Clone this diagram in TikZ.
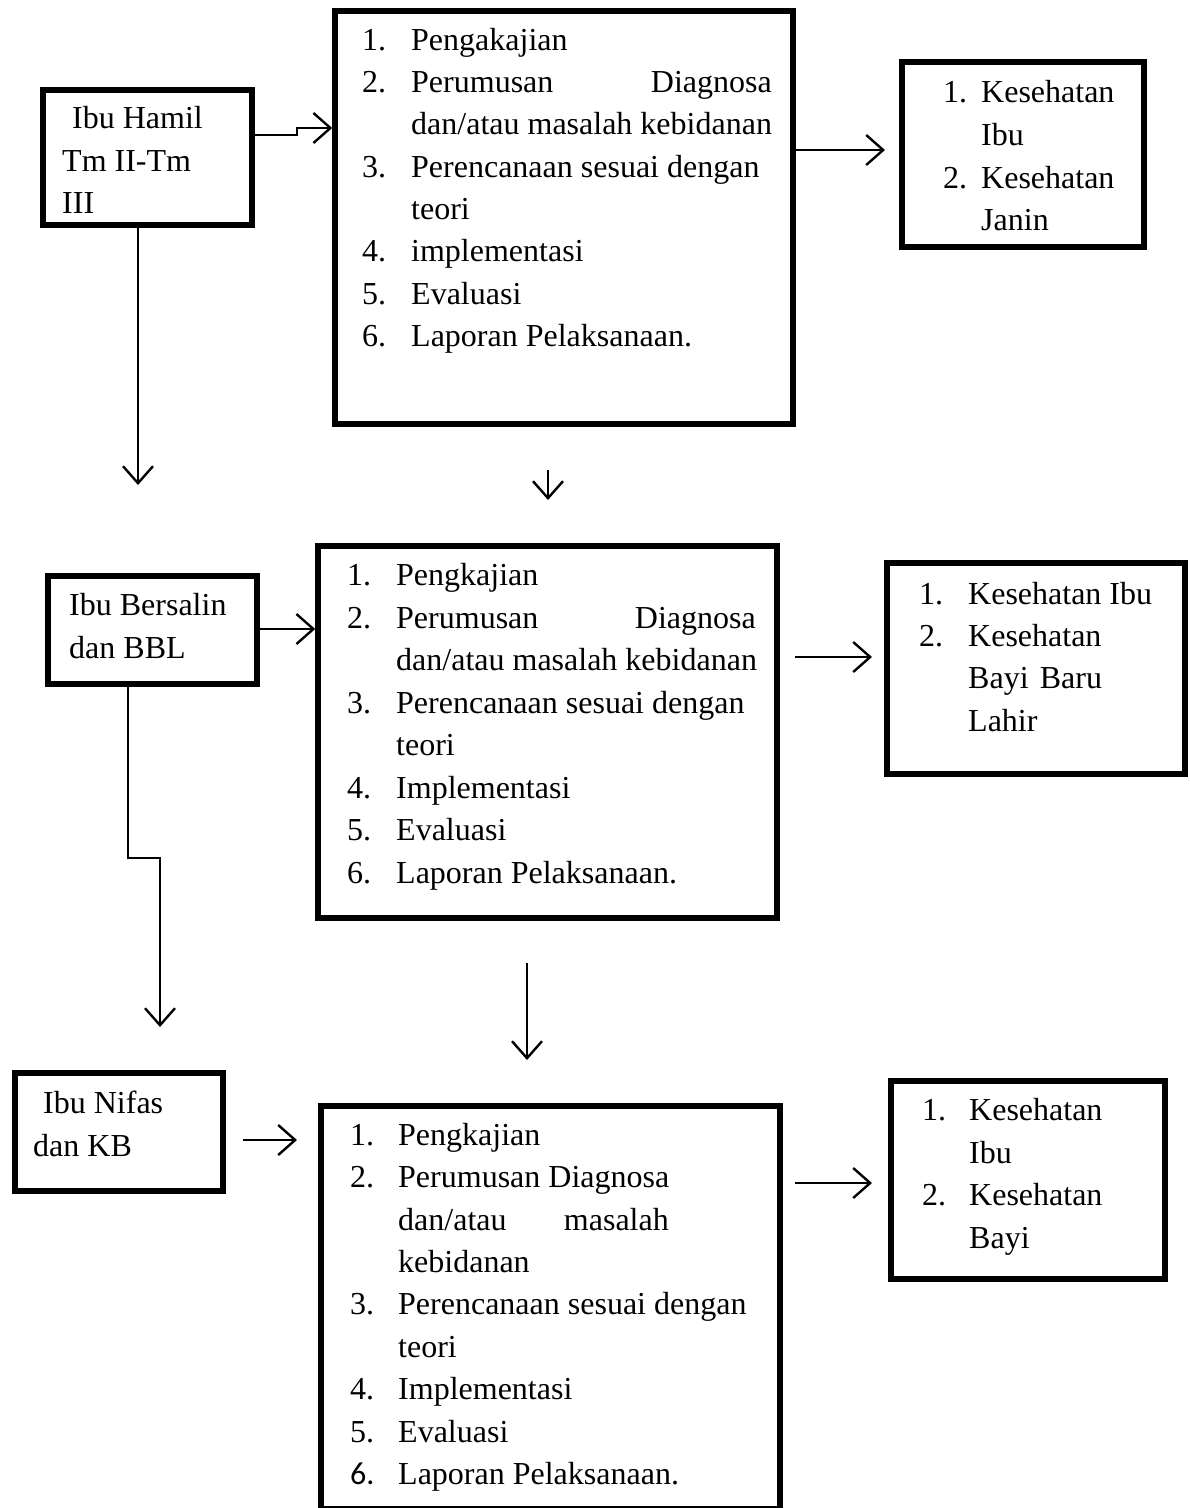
\documentclass[tikz,border=0pt]{standalone}
\usepackage{fontspec}
\setmainfont{Liberation Serif}
\newfontfamily\calfont{Carlito}
\usetikzlibrary{arrows.meta}
\begin{document}
\begin{tikzpicture}[x=1pt,y=-1pt,
  box/.style={draw, line width=5.5pt, inner sep=0pt},
  txt/.style={anchor=base west, inner sep=0pt, font=\fontsize{32}{42}\selectfont},
  txr/.style={anchor=base east, inner sep=0pt, font=\fontsize{32}{42}\selectfont},
  arr/.style={line width=2.4pt, -{Straight Barb[length=17pt,width=30pt]}}]
\useasboundingbox (0,0) rectangle (1190,1508);
\fill[white] (0,0) rectangle (1190,1508);

% boxes
\node[box, minimum width=209pt, minimum height=135pt] (A) at (147.5,157.5) {};
\node[box, minimum width=458pt, minimum height=413pt] (B) at (564,217.5) {};
\node[box, minimum width=242pt, minimum height=185pt] (C) at (1023,154.5) {};
\node[box, minimum width=209pt, minimum height=108pt] (D) at (152.5,630) {};
\node[box, minimum width=459pt, minimum height=372pt] (E) at (547.5,732) {};
\node[box, minimum width=298pt, minimum height=211pt] (F) at (1036,668.5) {};
\node[box, minimum width=208pt, minimum height=118pt] (G) at (119,1132) {};
\node[box, minimum width=459pt, minimum height=403pt] (H) at (550.5,1307.5) {};
\node[box, minimum width=274pt, minimum height=198pt] (I) at (1028,1180) {};

% box A text
\node[txt] (a1) at (72,128) {Ibu Hamil};
\node[txt] (a2) at (62,171) {Tm II-Tm};
\node[txt] (a3) at (62,213) {III};

% box B text
\node[txt] (b1n) at (362,50) {1.};  \node[txt] (b1) at (411,50) {Pengakajian};
\node[txt] (b2n) at (362,92) {2.};  \node[txt] (b2) at (411,92) {Perumusan};
\node[txr] (b2r) at (772,92) {Diagnosa};
\node[txt] (b2b) at (411,134) {dan/atau masalah kebidanan};
\node[txt] (b3n) at (362,177) {3.}; \node[txt] (b3) at (411,177) {Perencanaan sesuai dengan};
\node[txt] (b3b) at (411,219) {teori};
\node[txt] (b4n) at (362,261) {4.}; \node[txt] (b4) at (411,261) {implementasi};
\node[txt] (b5n) at (362,304) {5.}; \node[txt] (b5) at (411,304) {Evaluasi};
\node[txt] (b6n) at (362,346) {6.}; \node[txt] (b6) at (411,346) {Laporan Pelaksanaan.};

% box C text
\node[txt] (c1n) at (943,102) {1.}; \node[txt] (c1) at (981,102) {Kesehatan};
\node[txt] (c1b) at (981,145) {Ibu};
\node[txt] (c2n) at (943,188) {2.}; \node[txt] (c2) at (981,188) {Kesehatan};
\node[txt] (c2b) at (981,230) {Janin};

% box D text
\node[txt] (d1) at (69,615) {Ibu Bersalin};
\node[txt] (d2) at (69,658) {dan BBL};

% box E text
\node[txt] (e1n) at (347,585) {1.}; \node[txt] (e1) at (396,585) {Pengkajian};
\node[txt] (e2n) at (347,628) {2.}; \node[txt] (e2) at (396,628) {Perumusan};
\node[txr] (e2r) at (756,628) {Diagnosa};
\node[txt] (e2b) at (396,670) {dan/atau masalah kebidanan};
\node[txt] (e3n) at (347,713) {3.}; \node[txt] (e3) at (396,713) {Perencanaan sesuai dengan};
\node[txt] (e3b) at (396,755) {teori};
\node[txt] (e4n) at (347,798) {4.}; \node[txt] (e4) at (396,798) {Implementasi};
\node[txt] (e5n) at (347,840) {5.}; \node[txt] (e5) at (396,840) {Evaluasi};
\node[txt] (e6n) at (347,883) {6.}; \node[txt] (e6) at (396,883) {Laporan Pelaksanaan.};

% box F text
\node[txt] (f1n) at (919,604) {1.}; \node[txt] (f1) at (968,604) {Kesehatan Ibu};
\node[txt] (f2n) at (919,646) {2.}; \node[txt] (f2) at (968,646) {Kesehatan};
\node[txt] (f2b) at (968,688) {Bayi\hspace{0.35em}Baru};
\node[txt] (f2c) at (968,731) {Lahir};

% box G text
\node[txt] (g1) at (43,1113) {Ibu Nifas};
\node[txt] (g2) at (33,1156) {dan KB};

% box H text
\node[txt] (h1n) at (350,1145) {1.}; \node[txt] (h1) at (398,1145) {Pengkajian};
\node[txt] (h2n) at (350,1187) {2.}; \node[txt] (h2) at (398,1187) {Perumusan Diagnosa};
\node[txt] (h2b) at (398,1230) {dan/atau};
\node[txr] (h2r) at (669,1230) {masalah};
\node[txt] (h2c) at (398,1272) {kebidanan};
\node[txt] (h3n) at (350,1314) {3.}; \node[txt] (h3) at (398,1314) {Perencanaan sesuai dengan};
\node[txt] (h3b) at (398,1357) {teori};
\node[txt] (h4n) at (350,1399) {4.}; \node[txt] (h4) at (398,1399) {Implementasi};
\node[txt] (h5n) at (350,1442) {5.}; \node[txt] (h5) at (398,1442) {Evaluasi};
\node[txt, font=\fontsize{32}{42}\calfont] (h6n) at (350,1484) {6.}; \node[txt] (h6) at (398,1484) {Laporan Pelaksanaan.};

% box I text
\node[txt] (i1n) at (922,1120) {1.}; \node[txt] (i1) at (969,1120) {Kesehatan};
\node[txt] (i1b) at (969,1163) {Ibu};
\node[txt] (i2n) at (922,1205) {2.}; \node[txt] (i2) at (969,1205) {Kesehatan};
\node[txt] (i2b) at (969,1248) {Bayi};

% free ends
\coordinate (ABstep) at (297,135);
\coordinate (Adown) at (138,485);
\coordinate (Bd1) at (548,470);
\coordinate (Bd2) at (548,500);
\coordinate (BCend) at (885,150);
\coordinate (EFs) at (795,657);
\coordinate (EFe) at (872,657);
\coordinate (Dbend) at (128,858);
\coordinate (Dend) at (160,1027);
\coordinate (Ed1) at (527,963);
\coordinate (Ed2) at (527,1060);
\coordinate (GHs) at (243,1140);
\coordinate (GHe) at (297,1140);
\coordinate (HIs) at (795,1183);
\coordinate (HIe) at (872,1183);

% connectors
\draw[arr] (A.east |- ABstep) -- (ABstep) -- ++(0,-7) -- (B.west |- 0,128);
\draw[arr] (B.east |- BCend) -- (BCend);
\draw[arr] (A.south -| Adown) -- (Adown);
\draw[arr] (Bd1) -- (Bd2);
\draw[arr] (D.east |- 0,629) -- (E.west |- 0,629);
\draw[arr] (EFs) -- (EFe);
\draw[arr] (D.south -| Dbend) -- (Dbend) -- (Dbend -| Dend) -- (Dend);
\draw[arr] (Ed1) -- (Ed2);
\draw[arr] (GHs) -- (GHe);
\draw[arr] (HIs) -- (HIe);
\end{tikzpicture}
\end{document}
